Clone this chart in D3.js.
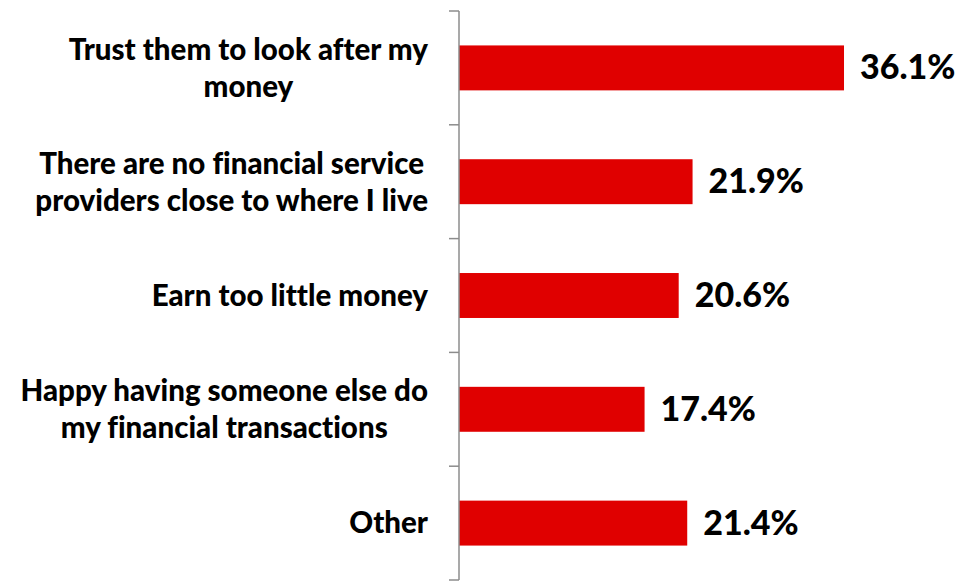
<!DOCTYPE html>
<html>
<head>
<meta charset="utf-8">
<script src="https://cdn.jsdelivr.net/npm/d3@7"></script>
<style>
  html, body { margin: 0; padding: 0; background: #ffffff; }
  svg { display: block; }
  text { font-variant-ligatures: none; }
</style>
</head>
<body>
<svg id="chart" width="962" height="584"></svg>
<script>
// Reasons given, one bar per reason (top to bottom)
const categories = [
  ["Trust them to look after my", "money"],
  ["There are no financial service", "providers close to where I live"],
  ["Earn too little money"],
  ["Happy having someone else do", "my financial transactions"],
  ["Other"]
];
const values = [36.1, 21.9, 20.6, 17.4, 21.4];
const valueLabels = ["36.1%", "21.9%", "20.6%", "17.4%", "21.4%"];

const svg = d3.select("#chart");
const fontFamily = "Lato, 'Open Sans', 'DejaVu Sans', sans-serif";
const axisX = 459;

const keys = categories.map((_, i) => i);
const y = d3.scaleBand().domain(keys).range([11, 580]).padding(0);
const x = d3.scaleLinear().domain([0, 40]).range([axisX, axisX + 426.6]);

const barH = y.bandwidth() * 0.395;

// Bars
svg.append("g").selectAll("rect")
  .data(values)
  .join("rect")
  .attr("x", x(0))
  .attr("y", (d, i) => y(i) + (y.bandwidth() - barH) / 2)
  .attr("width", d => x(d) - x(0))
  .attr("height", barH)
  .attr("fill", "#e00000");

// Category axis with tick marks on band boundaries
const axisG = svg.append("g").attr("stroke", "#8c8c8c").attr("stroke-width", 1.5);
axisG.append("line")
  .attr("x1", axisX).attr("x2", axisX)
  .attr("y1", y.range()[0]).attr("y2", y.range()[1]);
const bounds = keys.map(k => y(k)).concat([y.range()[1]]);
axisG.selectAll("line.tick")
  .data(bounds)
  .join("line")
  .attr("class", "tick")
  .attr("x1", axisX - 10).attr("x2", axisX)
  .attr("y1", d => d).attr("y2", d => d);

// Value labels
svg.append("g").selectAll("text")
  .data(values)
  .join("text")
  .attr("x", d => x(d) + 16)
  .attr("y", (d, i) => y(i) + y.bandwidth() / 2)
  .attr("dy", "0.34em")
  .attr("font-family", fontFamily)
  .attr("font-weight", 900)
  .attr("font-size", 34)
  .attr("fill", "#000")
  .text((d, i) => valueLabels[i]);

// Category labels: lines centred on each other, block right-aligned before the axis
const labelRight = 428;
const lineH = 37;
categories.forEach((lines, i) => {
  const g = svg.append("g");
  const texts = lines.map(l => g.append("text")
    .attr("font-family", fontFamily)
    .attr("font-weight", 900)
    .attr("font-size", 29.5)
    .attr("fill", "#000")
    .attr("text-anchor", "middle")
    .text(l));
  const maxW = d3.max(texts, t => t.node().getComputedTextLength());
  const cx = labelRight - maxW / 2;
  const cy = y(i) + y.bandwidth() / 2;
  const top = cy - (lines.length - 1) * lineH / 2;
  texts.forEach((t, j) => t.attr("x", cx).attr("y", top + j * lineH).attr("dy", "0.35em"));
});
</script>
</body>
</html>
